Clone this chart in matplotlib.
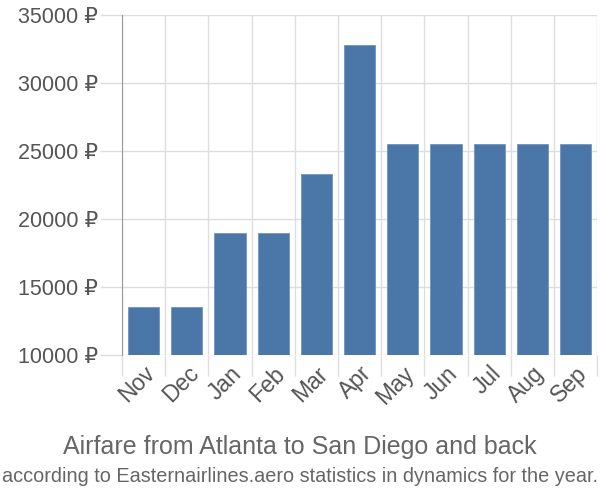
import matplotlib
matplotlib.use("Agg")
import matplotlib.pyplot as plt
import numpy as np

months = ["Nov", "Dec", "Jan", "Feb", "Mar", "Apr", "May", "Jun", "Jul", "Aug", "Sep"]
prices = [13500, 13500, 19000, 19000, 23300, 32800, 25500, 25500, 25500, 25500, 25500]
yticks = [10000, 15000, 20000, 25000, 30000, 35000]

plt.rcParams['font.family'] = ['Liberation Sans', 'DejaVu Sans']

fig = plt.figure(figsize=(6, 5), dpi=100)
ax = fig.add_axes([0.2033, 0.29, 0.792, 0.68])

x = np.arange(len(months))
ax.bar(x, prices, width=0.72, color="#4a76a8", edgecolor="#6f93c0", linewidth=0.6,
       zorder=3)

ax.set_xlim(-0.5, len(months) - 0.5)
ax.set_ylim(10000, 35000)

# y axis
ax.set_yticks(yticks)
ax.set_yticklabels([f"{v} ₽" for v in yticks])
ax.tick_params(axis="y", length=16, width=1, color="#dddddd", pad=1,
               labelsize=15.5, labelcolor="#555555")

# x axis: labels at centres, grid/ticks at the boundaries
ax.set_xticks(x)
ax.set_xticklabels(months, rotation=45, ha="right", va="top", rotation_mode="anchor")
ax.set_xticks(np.arange(-0.5, len(months)), minor=True)
ax.tick_params(axis="x", which="major", length=0, pad=5, labelsize=16.5,
               labelcolor="#555555")
ax.tick_params(axis="x", which="minor", length=15, width=1, color="#dddddd")
ax.xaxis.get_minor_ticks()[0].tick1line.set_color("#999999")

ax.grid(axis="y", which="major", color="#dddddd", linewidth=1, zorder=0)
ax.grid(axis="x", which="minor", color="#dddddd", linewidth=1, zorder=0)

for s in ["top", "right", "bottom"]:
    ax.spines[s].set_visible(False)
ax.spines["left"].set_color("#999999")
ax.spines["left"].set_zorder(4)

fig.text(0.5, 0.106, "Airfare from Atlanta to San Diego and back", ha="center",
         va="center", fontsize=18, color="#666666")
fig.text(0.5, 0.048, "according to Easternairlines.aero statistics in dynamics for the year.",
         ha="center", va="center", fontsize=14.3, color="#666666")

fig.savefig("out.png", dpi=100)
